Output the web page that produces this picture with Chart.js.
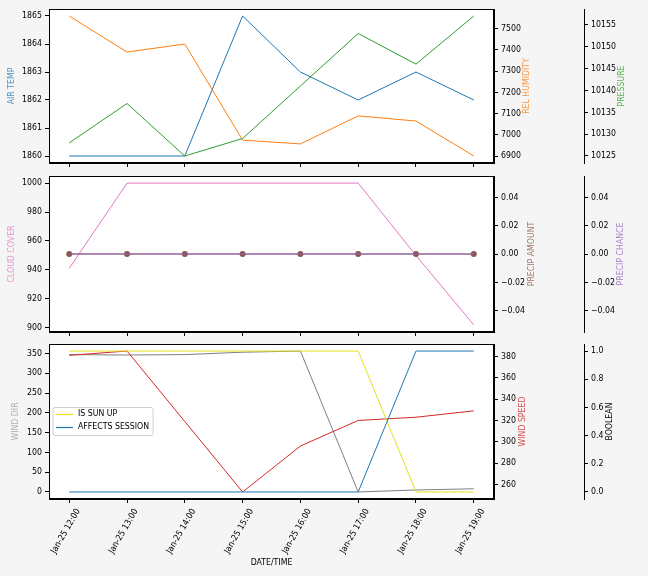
<!DOCTYPE html>
<html><head><meta charset="utf-8">
<script src="https://cdn.jsdelivr.net/npm/chart.js@4"></script>
<style>
html,body{margin:0;padding:0;background:#f5f5f5;}
#wrap{position:relative;width:648px;height:576px;overflow:hidden;background:#f5f5f5;}
canvas{position:absolute;left:0;}
</style></head><body>
<div id="wrap">
<canvas id="c1" width="648" height="170" style="top:0px"></canvas>
<canvas id="c2" width="648" height="170" style="top:170px"></canvas>
<canvas id="c3" width="648" height="236" style="top:340px"></canvas>
</div>
<script>
// ---------- data ----------
const categories = ["Jan-25 12:00","Jan-25 13:00","Jan-25 14:00","Jan-25 15:00","Jan-25 16:00","Jan-25 17:00","Jan-25 18:00","Jan-25 19:00"];
const airTemp      = [1860, 1860, 1860, 1865, 1863, 1862, 1863, 1862];
const relHumidity  = [7560, 7390, 7428, 6975, 6957, 7089, 7065, 6900];
const pressure     = [10128, 10137, 10125, 10129, 10141, 10153, 10146, 10157];
const cloudCover   = [941, 1000, 1000, 1000, 1000, 1000, 950, 902];
const precipAmount = [0, 0, 0, 0, 0, 0, 0, 0];
const precipChance = [0, 0, 0, 0, 0, 0, 0, 0];
const windDir      = [347, 346, 347, 353, 356, 0, 5, 8];
const windSpeed    = [381, 385, 319, 253, 296, 320, 323, 329];
const isSunUp      = [1, 1, 1, 1, 1, 1, 0, 0];
const affectsSession = [0, 0, 0, 0, 0, 0, 1, 1];

const airTempTicks   = [1860, 1861, 1862, 1863, 1864, 1865];
const humidityTicks  = [6900, 7000, 7100, 7200, 7300, 7400, 7500];
const pressureTicks  = [10125, 10130, 10135, 10140, 10145, 10150, 10155];
const cloudTicks     = [900, 920, 940, 960, 980, 1000];
const precipTicks    = [-0.04, -0.02, 0, 0.02, 0.04];
const windDirTicks   = [0, 50, 100, 150, 200, 250, 300, 350];
const windSpeedTicks = [260, 280, 300, 320, 340, 360, 380];
const boolTicks      = [0, 0.2, 0.4, 0.6, 0.8, 1.0];

// ---------- helpers ----------
const FF = "'DejaVu Sans Condensed', 'Liberation Sans Narrow', 'Liberation Sans', sans-serif";
const FS = 8.7;
const C = {
  blue:'#1f77b4', orange:'#ff7f0e', green:'#2ca02c', pink:'#e377c2', brown:'#8c564b',
  purple:'#9467bd', gray:'#7f7f7f', red:'#d62728', yellow:'#e4e01c'
};
function withAlpha(hex, a){const n=parseInt(hex.slice(1),16);return `rgba(${n>>16},${(n>>8)&255},${n&255},${a})`;}
function bounds(...arrs){
  const all=[].concat(...arrs); let mn=Math.min(...all), mx=Math.max(...all);
  if(mn===mx){mn-=0.05;mx+=0.05;}
  const m=(mx-mn)*0.05; return {min:mn-m,max:mx+m};
}
const xy = arr => arr.map((v,i)=>({x:i,y:v}));
const fmt = d => v => { const s=Math.abs(v).toFixed(d); return (v<0 && Number(s)!==0 ? '\u2212' : '') + s; };
function noPad(s){ s.paddingTop=0; s.paddingBottom=0; s.paddingLeft=0; s.paddingRight=0; }

function yAxis(position, b, ticks, f, width, weight){
  return {
    type:'linear', position, min:b.min, max:b.max, weight,
    afterBuildTicks: s => { s.ticks = ticks.map(v=>({value:v})); },
    afterFit: s => { s.width = width; noPad(s); },
    grid:{display:true, drawOnChartArea:false, drawTicks:true, tickLength:4, tickColor:'#000', tickWidth:1},
    border:{display:true, color:'#000', width:1},
    ticks:{color:'#000', font:{family:FF, size:FS}, padding:3, callback: v => f(v)},
    title:{display:false}
  };
}
const xN = categories.length - 1;
function xAxis(showLabels, height){
  return {
    type:'linear', position:'bottom', min:-0.05*xN, max:xN+0.05*xN,
    afterBuildTicks: s => { s.ticks = categories.map((_,i)=>({value:i})); },
    afterFit: s => { s.height = height; noPad(s); },
    grid:{display:true, drawOnChartArea:false, drawTicks:true, tickLength:4, tickColor:'#000', tickWidth:1},
    border:{display:true, color:'#000', width:1},
    ticks:{display:showLabels, autoSkip:false, minRotation:60, maxRotation:60, labelOffset:9, padding:4,
           color:'#000', font:{family:FF, size:FS}, callback: v => categories[v]},
    title:{display:showLabels, text:'DATE/TIME', color:'#000', font:{family:FF, size:FS}, padding:{top:4,bottom:4}}
  };
}
function line(label, data, axis, color, order, extra){
  return Object.assign({label, data:xy(data), yAxisID:axis, borderColor:color, backgroundColor:color,
    borderWidth:1, pointRadius:0, tension:0, fill:false, order}, extra||{});
}
function decor(titles, legend){
  return {
    id:'decor',
    beforeDraw(chart){
      const {ctx, chartArea:a} = chart;
      ctx.save(); ctx.fillStyle='#fff'; ctx.fillRect(a.left,a.top,a.right-a.left,a.bottom-a.top); ctx.restore();
    },
    afterDraw(chart){
      const {ctx, chartArea:a} = chart;
      ctx.save();
      ctx.strokeStyle='#000'; ctx.lineWidth=1;
      const l=Math.round(a.left)+0.5, t=Math.round(a.top)+0.5, r=Math.round(a.right)-0.5, b=Math.round(a.bottom)-0.5;
      ctx.strokeRect(l,t,r-l,b-t);
      const cy=(a.top+a.bottom)/2;
      ctx.font = FS+'px '+FF; ctx.textAlign='center'; ctx.textBaseline='middle';
      for(const tt of titles){
        ctx.save(); ctx.translate(tt.x, cy); ctx.rotate(-Math.PI/2);
        ctx.fillStyle=tt.color; ctx.fillText(tt.text,0,0); ctx.restore();
      }
      if(legend){
        ctx.textAlign='left';
        const L=a.left+4, h=28, top=cy-h/2;
        const tw=Math.max(...legend.map(i=>ctx.measureText(i.text).width));
        const w=25+tw+4;
        const rr=2;
        ctx.beginPath();
        ctx.moveTo(L+rr,top); ctx.lineTo(L+w-rr,top); ctx.quadraticCurveTo(L+w,top,L+w,top+rr);
        ctx.lineTo(L+w,top+h-rr); ctx.quadraticCurveTo(L+w,top+h,L+w-rr,top+h);
        ctx.lineTo(L+rr,top+h); ctx.quadraticCurveTo(L,top+h,L,top+h-rr);
        ctx.lineTo(L,top+rr); ctx.quadraticCurveTo(L,top,L+rr,top); ctx.closePath();
        ctx.fillStyle='rgba(255,255,255,0.85)'; ctx.fill();
        ctx.strokeStyle='#d0d0d0'; ctx.stroke();
        legend.forEach((it,k)=>{
          const y = top + 7 + k*13;
          ctx.strokeStyle=it.color; ctx.lineWidth=1.2;
          ctx.beginPath(); ctx.moveTo(L+3,y); ctx.lineTo(L+20,y); ctx.stroke();
          ctx.fillStyle='#000'; ctx.fillText(it.text, L+25, y-1);
        });
      }
      ctx.restore();
    }
  };
}
const base = {responsive:false, animation:false, devicePixelRatio:1,
  plugins:{legend:{display:false}, tooltip:{enabled:false}}, events:[]};

// ---------- chart 1 ----------
new Chart(document.getElementById('c1'), {
  type:'line',
  data:{datasets:[
    line('AIR TEMP', airTemp, 'yT', C.blue, 3),
    line('REL HUMIDITY', relHumidity, 'yH', C.orange, 2),
    line('PRESSURE', pressure, 'yP', C.green, 1)
  ]},
  options:Object.assign({}, base, {
    layout:{padding:{top:9,bottom:0,left:0,right:0}},
    scales:{
      x:xAxis(false,7),
      yT:yAxis('left', bounds(airTemp), airTempTicks, fmt(0), 49, 0),
      yH:yAxis('right', bounds(relHumidity), humidityTicks, fmt(0), 90, 0),
      yP:yAxis('right', bounds(pressure), pressureTicks, fmt(0), 64, 1)
    }
  }),
  plugins:[decor([
    {text:'AIR TEMP', color:withAlpha(C.blue,0.8), x:12},
    {text:'REL HUMIDITY', color:withAlpha(C.orange,0.8), x:527},
    {text:'PRESSURE', color:withAlpha(C.green,0.8), x:622}
  ])]
});

// ---------- chart 2 ----------
const precipB = bounds(precipAmount, precipChance);
new Chart(document.getElementById('c2'), {
  type:'line',
  data:{datasets:[
    line('CLOUD COVER', cloudCover, 'yC', C.pink, 3),
    line('PRECIP AMOUNT', precipAmount, 'yA', C.brown, 2, {pointRadius:3, pointBorderWidth:0, pointBackgroundColor:C.brown}),
    line('PRECIP CHANCE', precipChance, 'yN', C.purple, 1)
  ]},
  options:Object.assign({}, base, {
    layout:{padding:{top:6,bottom:0,left:0,right:0}},
    scales:{
      x:xAxis(false,8),
      yC:yAxis('left', bounds(cloudCover), cloudTicks, fmt(0), 49, 0),
      yA:yAxis('right', precipB, precipTicks, fmt(2), 90, 0),
      yN:yAxis('right', precipB, precipTicks, fmt(2), 64, 1)
    }
  }),
  plugins:[decor([
    {text:'CLOUD COVER', color:withAlpha(C.pink,0.8), x:12},
    {text:'PRECIP AMOUNT', color:withAlpha(C.brown,0.8), x:532},
    {text:'PRECIP CHANCE', color:withAlpha(C.purple,0.8), x:621}
  ])]
});

// ---------- chart 3 ----------
new Chart(document.getElementById('c3'), {
  type:'line',
  data:{datasets:[
    line('WIND DIR', windDir, 'yD', C.gray, 4),
    line('WIND SPEED', windSpeed, 'yS', C.red, 3),
    line('IS SUN UP', isSunUp, 'yB', C.yellow, 2),
    line('AFFECTS SESSION', affectsSession, 'yB', C.blue, 1)
  ]},
  options:Object.assign({}, base, {
    layout:{padding:{top:4,bottom:4,left:0,right:0}},
    scales:{
      x:xAxis(true,73),
      yD:yAxis('left', bounds(windDir), windDirTicks, fmt(0), 49, 0),
      yS:yAxis('right', bounds(windSpeed), windSpeedTicks, fmt(0), 90, 0),
      yB:yAxis('right', bounds(isSunUp, affectsSession), boolTicks, fmt(1), 64, 1)
    }
  }),
  plugins:[decor([
    {text:'WIND DIR', color:withAlpha(C.gray,0.6), x:16},
    {text:'WIND SPEED', color:withAlpha(C.red,0.85), x:523},
    {text:'BOOLEAN', color:'#000', x:610}
  ], [
    {text:'IS SUN UP', color:C.yellow},
    {text:'AFFECTS SESSION', color:C.blue}
  ])]
});
</script>
</body></html>
